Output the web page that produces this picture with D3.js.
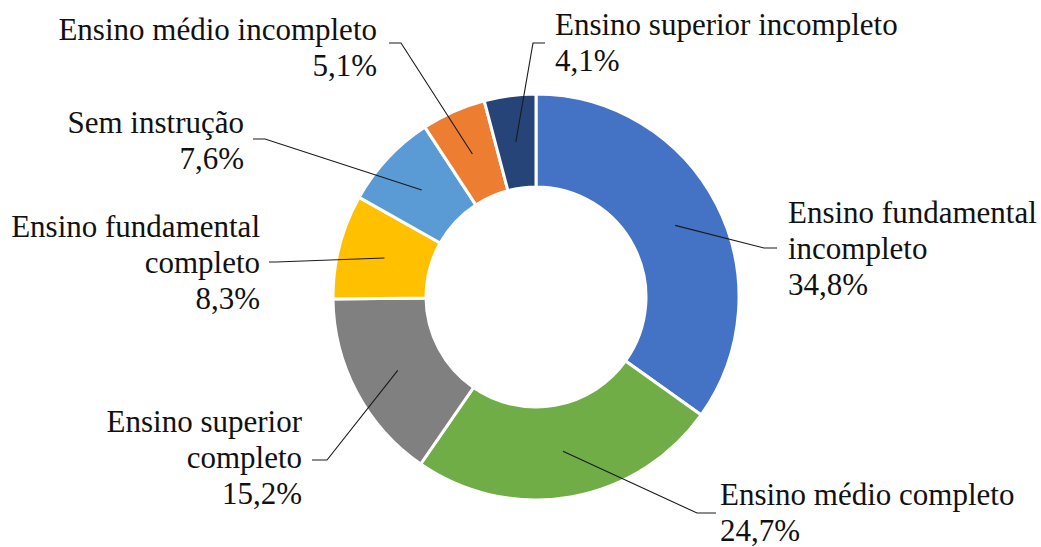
<!DOCTYPE html>
<html>
<head>
<meta charset="utf-8">
<script src="https://cdn.jsdelivr.net/npm/d3@7"></script>
</head>
<body style="margin:0;background:#fff">
<svg id="chart" width="1041" height="547"></svg>
<script>
// slice data, clockwise from 12 o'clock
const categories = [
  "Ensino fundamental incompleto",
  "Ensino médio completo",
  "Ensino superior completo",
  "Ensino fundamental completo",
  "Sem instrução",
  "Ensino médio incompleto",
  "Ensino superior incompleto"
];
const values = [34.8, 24.7, 15.2, 8.3, 7.6, 5.1, 4.1];
const valueLabels = ["34,8%", "24,7%", "15,2%", "8,3%", "7,6%", "5,1%", "4,1%"];
const labelLines = [
  ["Ensino fundamental", "incompleto"],
  ["Ensino médio completo"],
  ["Ensino superior", "completo"],
  ["Ensino fundamental", "completo"],
  ["Sem instrução"],
  ["Ensino médio incompleto"],
  ["Ensino superior incompleto"]
];
const colors = ["#4472C4", "#70AD47", "#808080", "#FFC000", "#5B9BD5", "#ED7D31", "#264478"];

// label layout: text x, first baseline y, elbow (ex,ey) and line end (lx)
const labelLayout = [
  { x: 788, y: 223, anchor: "start", ex: 764, ey: 248, lx: 777 },
  { x: 720, y: 505, anchor: "start", ex: 697, ey: 513, lx: 716 },
  { x: 302, y: 432, anchor: "end",   ex: 327, ey: 460, lx: 312 },
  { x: 260, y: 237, anchor: "end",   ex: 276, ey: 262, lx: 269 },
  { x: 244, y: 133, anchor: "end",   ex: 265, ey: 139, lx: 253 },
  { x: 377, y: 40,  anchor: "end",   ex: 401, ey: 43,  lx: 389 },
  { x: 555, y: 35,  anchor: "start", ex: 533, ey: 43,  lx: 545 }
];

const cx = 536, cy = 297;
const outerR = 203, innerR = 110;
const lineH = 36;

const svg = d3.select("#chart");

const g = svg.append("g").attr("transform", `translate(${cx},${cy})`);

const pie = d3.pie().sort(null).value((d) => d)(values);
const arc = d3.arc().innerRadius(innerR).outerRadius(outerR);

g.selectAll("path.slice")
  .data(pie)
  .enter()
  .append("path")
  .attr("class", "slice")
  .attr("d", arc)
  .attr("fill", (d, i) => colors[i])
  .attr("stroke", "#fff")
  .attr("stroke-width", 3);

// leader lines: centroid -> elbow -> label
svg.selectAll("polyline.leader")
  .data(pie)
  .enter()
  .append("polyline")
  .attr("class", "leader")
  .attr("fill", "none")
  .attr("stroke", "#1a1a1a")
  .attr("stroke-width", 1.1)
  .attr("points", (d, i) => {
    const c = arc.centroid(d);
    const L = labelLayout[i];
    return [[c[0] + cx, c[1] + cy], [L.ex, L.ey], [L.lx, L.ey]].map((p) => p.join(",")).join(" ");
  });

// labels
const labels = svg.selectAll("text.lbl")
  .data(pie)
  .enter()
  .append("text")
  .attr("class", "lbl")
  .attr("text-anchor", (d, i) => labelLayout[i].anchor)
  .style("font-family", "Times New Roman")
  .style("font-size", "31px")
  .attr("fill", "#111");

labels.each(function (d, i) {
  const L = labelLayout[i];
  const t = d3.select(this);
  const lines = labelLines[i].concat([valueLabels[i]]);
  lines.forEach((s, k) => {
    t.append("tspan").attr("x", L.x).attr("y", L.y + k * lineH).text(s);
  });
});
</script>
</body>
</html>
